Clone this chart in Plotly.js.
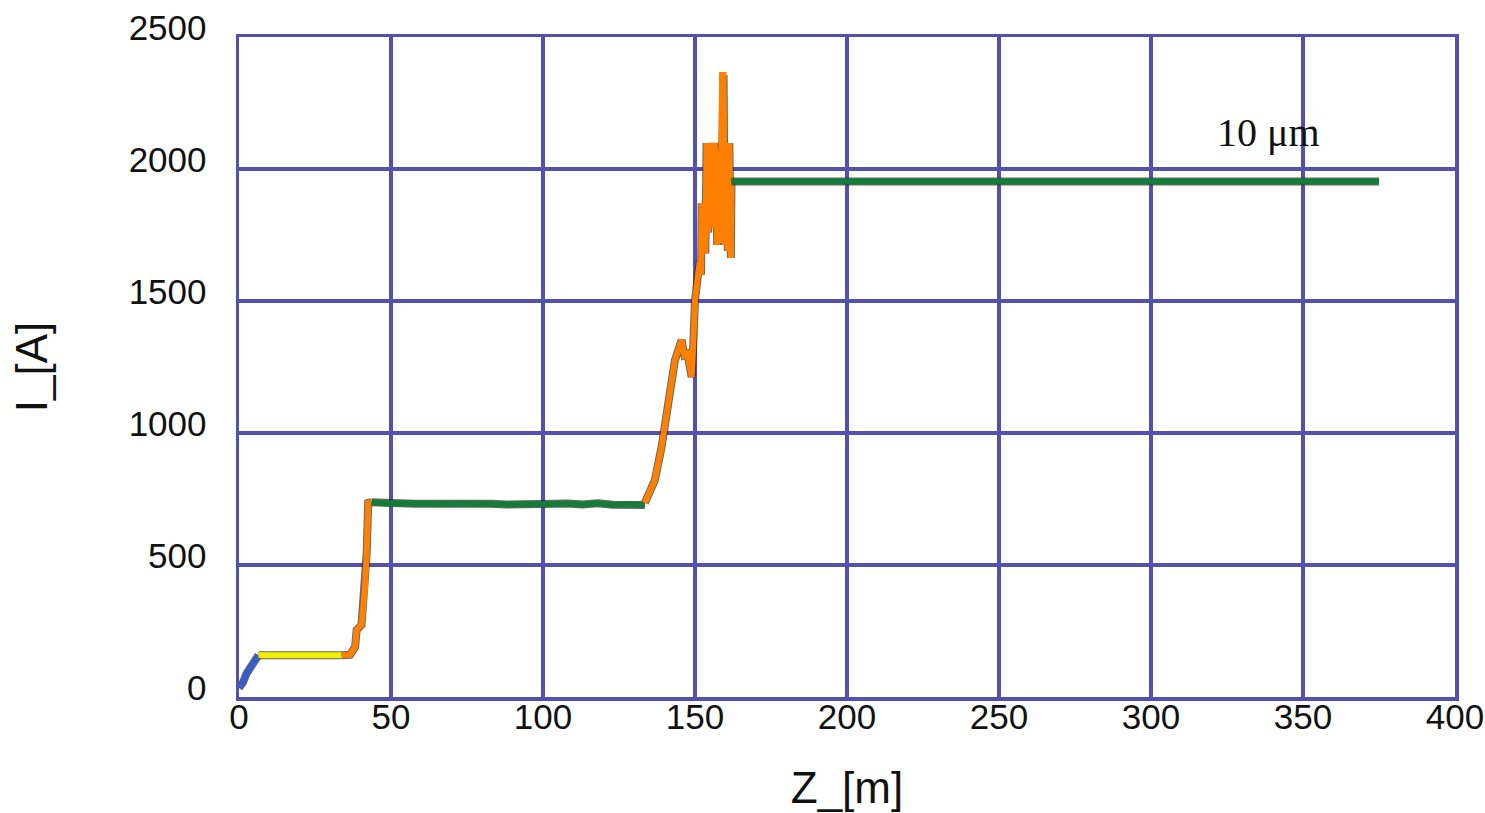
<!DOCTYPE html>
<html>
<head>
<meta charset="utf-8">
<script src="https://cdn.plot.ly/plotly-3.0.1.min.js"></script>
<style>html,body{margin:0;padding:0;background:#fff;}#chart{width:1485px;height:813px;}</style>
</head>
<body>
<div id="chart"></div>
<script>
// ---- data (Z in m, I in A) ----
const blueZ = [0, 0.6, 1.3, 2.5, 4.2, 5.8, 6.4];
const blueI = [35, 42, 55, 90, 121, 152, 158];

const yellowZ = [6.4, 15, 25, 33.8];
const yellowI = [158, 158, 158, 158];

const orange1Z = [33.8, 36.5, 38.2, 38.7, 40.3, 41.4, 42.0, 42.5, 43.6];
const orange1I = [158, 160, 189, 254, 273, 405, 545, 735, 738];

const green1Z = [43.6, 48, 53, 58, 63, 68, 73, 78, 83, 88, 93, 98, 103, 108, 113, 118, 123, 128, 133.5];
const green1I = [738, 733, 734, 732, 733, 731, 733, 730, 732, 729, 731, 728, 730, 733, 729, 734, 728, 730, 727];

const orange2Z = [133.5, 136.8, 139.0, 140.7, 142.3, 143.4, 145.6, 146.5, 147.5, 148.9, 149.5, 150.0, 151.0, 151.6, 152.0, 152.2, 152.6, 153.0, 153.4, 153.8, 154.3, 154.8, 155.3, 155.8, 156.3, 156.8, 157.3, 157.8, 158.4, 158.9, 159.4, 159.8, 160.3, 160.8, 161.3, 161.8, 162.0];
const orange2I = [735, 822, 947, 1076, 1200, 1276, 1352, 1295, 1300, 1212, 1352, 1504, 1600, 1650, 1600, 1870, 1700, 1870, 1680, 2098, 1760, 2098, 2045, 1776, 2098, 2045, 1712, 2045, 1720, 2356, 2356, 1712, 2098, 1690, 2098, 1663, 1951];

const green2Z = [162.0, 375];
const green2I = [1953, 1953];

const xTicks = [0, 50, 100, 150, 200, 250, 300, 350, 400];
const yTicks = [0, 500, 1000, 1500, 2000, 2500];
const noteText = "10 μm";
const noteZ = 338.5, noteI = 2140;

// ---- traces ----
const segs = [
  {x: blueZ, y: blueI, c: "#3a5cc6"},
  {x: yellowZ, y: yellowI, c: "#f3ee00"},
  {x: orange1Z, y: orange1I, c: "#ff8000"},
  {x: green1Z, y: green1I, c: "#137c38"},
  {x: orange2Z, y: orange2I, c: "#ff8000"},
  {x: green2Z, y: green2I, c: "#137c38"}
];
const traces = [];
segs.forEach(s => {
  traces.push({x: s.x, y: s.y, mode: "lines", line: {color: "rgba(40,40,40,0.7)", width: 8}, hoverinfo: "skip", showlegend: false});
  traces.push({x: s.x, y: s.y, mode: "lines", line: {color: s.c, width: 6}, showlegend: false});
});

const gridCol = "#5550b0";
const layout = {
  width: 1485, height: 813,
  paper_bgcolor: "#fff", plot_bgcolor: "#fff",
  margin: {l: 239, r: 30, t: 37, b: 116},
  showlegend: false,
  font: {family: "Liberation Sans, Arial, sans-serif", color: "#111"},
  xaxis: {
    range: [0, 400], tickvals: xTicks, ticktext: xTicks.map(String),
    showgrid: true, gridcolor: gridCol, gridwidth: 3.5, zeroline: false,
    showline: true, linecolor: gridCol, linewidth: 3.5, mirror: true,
    ticks: "", tickfont: {size: 35, color: "#111"}, ticklabelstandoff: -14,
    title: {text: "Z_[m]", font: {size: 44, color: "#111"}, standoff: 38}
  },
  yaxis: {
    range: [0, 2500], tickvals: yTicks, ticktext: yTicks.map(String),
    showgrid: true, gridcolor: gridCol, gridwidth: 3.5, zeroline: false,
    showline: true, linecolor: gridCol, linewidth: 3.5, mirror: true,
    ticks: "", tickfont: {size: 35, color: "#111"}, ticklabelstandoff: 22, ticklabelshift: -9,
    title: {text: "I_[A]", font: {size: 44, color: "#111"}, standoff: 68}
  },
  annotations: [{
    x: noteZ, y: noteI, xref: "x", yref: "y", text: noteText, showarrow: false,
    font: {family: "Liberation Serif, Times New Roman, serif", size: 40, color: "#111"}
  }]
};
Plotly.newPlot("chart", traces, layout, {displayModeBar: false, staticPlot: true});
</script>
</body>
</html>
